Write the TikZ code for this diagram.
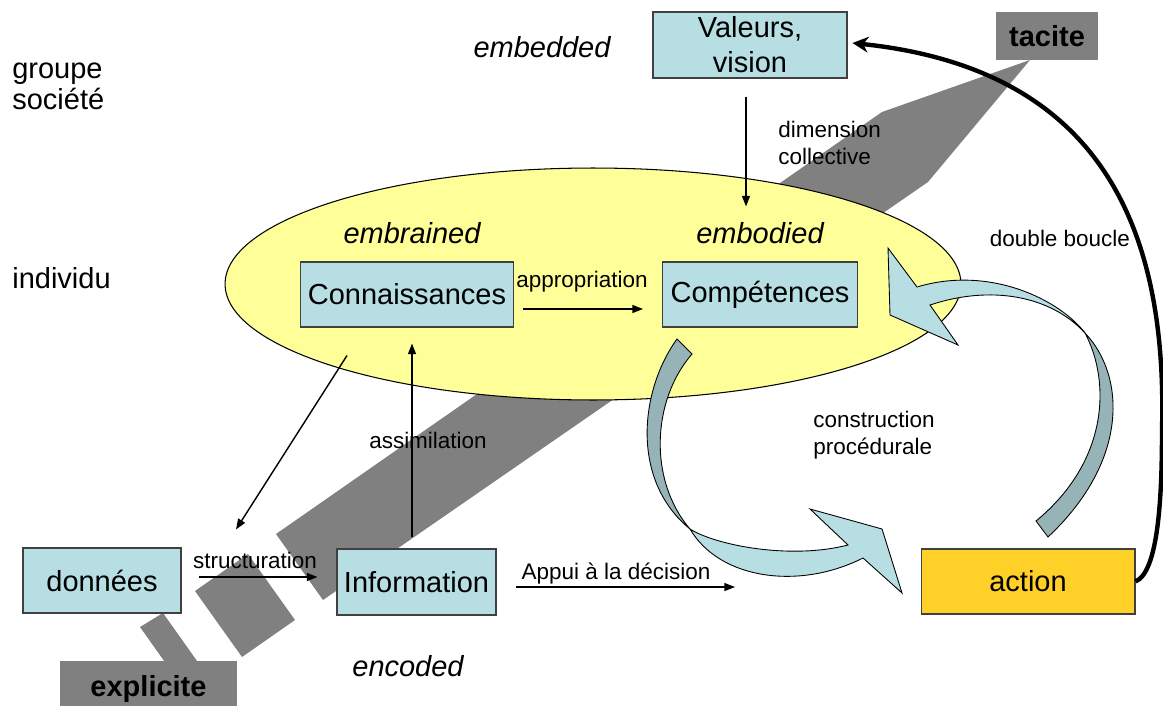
\documentclass[tikz,border=0pt]{standalone}
\usepackage{fontspec}
\setmainfont{Liberation Sans}
\usetikzlibrary{arrows.meta}
\definecolor{boxblue}{RGB}{183,222,226}
\definecolor{darkteal}{RGB}{150,179,183}
\definecolor{paleyellow}{RGB}{255,255,153}
\definecolor{bandgray}{RGB}{128,128,128}
\definecolor{gold}{RGB}{255,208,40}
\newcommand{\bigtxt}{\fontsize{16.5pt}{20pt}\selectfont}
\newcommand{\smalltxt}{\fontsize{12.8pt}{15.3pt}\selectfont}
\begin{document}
\begin{tikzpicture}[x=0.02cm,y=-0.02cm,inner sep=0pt,
    box/.style={draw=black!75,line width=0.6pt,fill=boxblue,align=center,font=\bigtxt},
    pole/.style={fill=bandgray,font=\bigtxt\bfseries},
    kind/.style={font=\bigtxt\itshape},
    lbl/.style={font=\smalltxt,align=left},
    arr/.style={-{Triangle[length=6pt,width=4.5pt]},line width=0.8pt}]
\useasboundingbox (0,0) rectangle (1163,706);
\clip (0,0) rectangle (1163,706);
\fill[bandgray] (276,534) -- (882,112) -- (1030,60) -- (928,182) -- (323,600) -- cycle;
\fill[bandgray] (195,591) -- (248,554) -- (295,620) -- (242,657) -- cycle;
\fill[bandgray] (140,627) -- (163,613) -- (224,699) -- (201,713) -- cycle;
\draw[fill=paleyellow,line width=0.6pt] (593,284) ellipse [x radius=7.36cm, y radius=2.32cm];
\draw (750, 45) node[box,minimum width=3.88cm,minimum height=1.32cm](valeurs) {Valeurs,\\vision};
\draw (1047, 36) node[pole,minimum width=2.04cm,minimum height=0.96cm](tacite) {tacite};
\draw (148.5, 688.5) node[pole,minimum width=3.54cm,minimum height=1.1cm](explicite) {explicite};
\draw (407, 294.5) node[box,minimum width=4.26cm,minimum height=1.3cm](conn) {Connaissances};
\draw (760, 294.5) node[box,minimum width=3.9cm,minimum height=1.3cm](comp) {Compétences};
\draw (102, 580.5) node[box,minimum width=3.16cm,minimum height=1.3cm](donnees) {données};
\draw (416.5, 582) node[box,minimum width=3.18cm,minimum height=1.32cm](info) {Information};
\draw (1028, 581.5) node[box,fill=gold,minimum width=4.28cm,minimum height=1.3cm](action) {action};
\draw (12, 86) node[anchor=west,align=left,font={\fontsize{16.5pt}{17.6pt}\selectfont}](groupe) {groupe\\société};
\draw (12, 278) node[anchor=west,font=\bigtxt](individu) {individu};
\draw (542, 47) node[kind](embedded) {embedded};
\draw (412, 233) node[kind](embrained) {embrained};
\draw (760, 233) node[kind](embodied) {embodied};
\draw (408, 666) node[kind](encoded) {encoded};
\draw (582, 282) node[lbl](appropriation) {appropriation};
\draw (255, 560) node[lbl](structuration) {structuration};
\draw (428, 440) node[lbl](assimilation) {assimilation};
\draw (616, 574) node[lbl](appui) {Appui à la décision};
\draw (778, 143) node[lbl,anchor=west](dimension) {dimension\\collective};
\draw (1060, 238) node[lbl](boucle) {double boucle};
\draw (813, 435) node[lbl,anchor=west](construction) {construction\\procédurale};
\draw[fill=darkteal,line width=0.5pt] (677,339) .. controls (640,390) and (630,480) .. (690,529) .. controls (648,480) and (652,400) .. (692,354) -- cycle;
\draw[fill=boxblue,line width=0.5pt] (690,529) .. controls (715,545) and (790,560) .. (848,545) -- (810,509) -- (882,529) -- (902,593) -- (863,558) .. controls (800,590) and (720,580) .. (690,529) -- cycle;
\draw[fill=boxblue,line width=0.5pt] (1085,333) .. controls (1060,300) and (990,265) .. (917,287) -- (888,248) -- (890,315) -- (958,345) -- (930,305) .. controls (990,285) and (1050,295) .. (1085,333) -- cycle;
\draw[fill=darkteal,line width=0.5pt] (1085,333) .. controls (1125,375) and (1130,460) .. (1048,537) -- (1036,521) .. controls (1110,460) and (1110,380) .. (1085,333) -- cycle;
\coordinate (decision) at (735,587);
\draw[arr] ([shift={(9,14.5)}]conn.east) -- ([shift={(-19,14.5)}]comp.west);
\draw[arr] ([shift={(17,-3.5)}]donnees.east) -- ([shift={(-19,-5)}]info.west);
\draw[arr] ([shift={(-4.5,-11)}]info.north) -- ([shift={(5,16)}]conn.south);
\draw[arr] ([shift={(-60,28)}]conn.south) -- ([shift={(134,-18)}]donnees.north);
\draw[arr] ([shift={(19,5)}]info.east) -- (decision);
\draw[arr] ([shift={(-4,18)}]valeurs.south) -- ([shift={(-14,-55)}]comp.north);
\draw[line width=2.5pt,-{Stealth[length=9pt,width=9pt]}] (action.east) .. controls (1158,572) and (1162,500) .. (1162,430) .. controls (1167,240) and (1110,70) .. ([shift={(5,-2)}]valeurs.east);
\end{tikzpicture}
\end{document}
